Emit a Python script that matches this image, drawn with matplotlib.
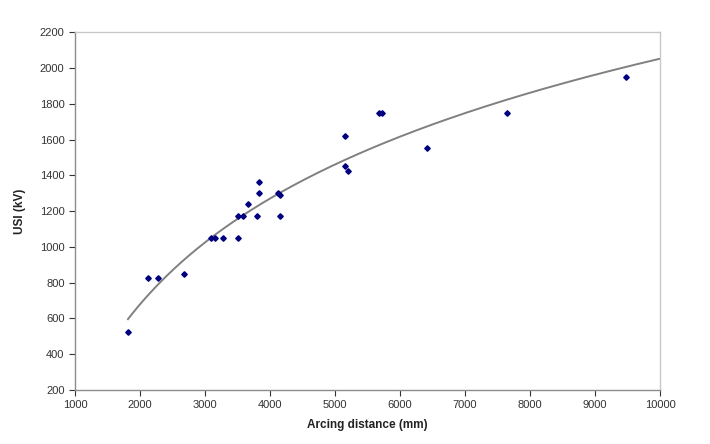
import matplotlib.pyplot as plt
import numpy as np

plt.rcParams['font.family'] = ['Liberation Sans', 'DejaVu Sans']

# arcing distance (mm) and USI (kV)
distance = [1815, 2130, 2280, 2680, 3100, 3150, 3270, 3510,
            3510, 3590, 3800, 4150, 3660, 3830, 4130, 4150, 3830,
            5150, 5150, 5200, 5680, 5730, 6420, 7650, 9480]
usi = [525, 825, 825, 850, 1050, 1050, 1050, 1050,
       1175, 1175, 1175, 1175, 1240, 1300, 1300, 1290, 1360,
       1620, 1450, 1425, 1750, 1750, 1550, 1750, 1950]

x_ticks = list(range(1000, 10001, 1000))
y_ticks = list(range(200, 2201, 200))


def main():
    x = np.array(distance, dtype=float)
    y = np.array(usi, dtype=float)

    # logarithmic trendline through the points
    a, b = np.polyfit(np.log(x), y, 1)
    xs = np.linspace(x.min(), 10000, 200)
    ys = a * np.log(xs) + b

    fig = plt.figure(figsize=(7.1, 4.44), dpi=100)
    ax = fig.add_axes([0.1056, 0.1216, 0.824, 0.806])

    ax.plot(xs, ys, color='#808080', lw=1.4, zorder=2)
    ax.plot(x, y, 'D', color='#000080', ms=2.8, zorder=3)

    ax.set_xlim(1000, 10000)
    ax.set_ylim(200, 2200)
    ax.set_xticks(x_ticks)
    ax.set_yticks(y_ticks)
    ax.tick_params(labelsize=8, colors='#333333', length=4, width=0.8,
                   direction='out')
    for side in ['left', 'bottom']:
        ax.spines[side].set_color('#8c8c8c')
        ax.spines[side].set_linewidth(1.0)
    for side in ['top', 'right']:
        ax.spines[side].set_color('#c8c8c8')
        ax.spines[side].set_linewidth(1.0)

    ax.set_xlabel('Arcing distance (mm)', fontsize=8.5, fontweight='bold',
                  color='#222222', labelpad=6)
    ax.set_ylabel('USI (kV)', fontsize=8.5, fontweight='bold',
                  color='#222222', labelpad=10)

    fig.savefig('out.png', dpi=100)


if __name__ == "__main__":
    main()
